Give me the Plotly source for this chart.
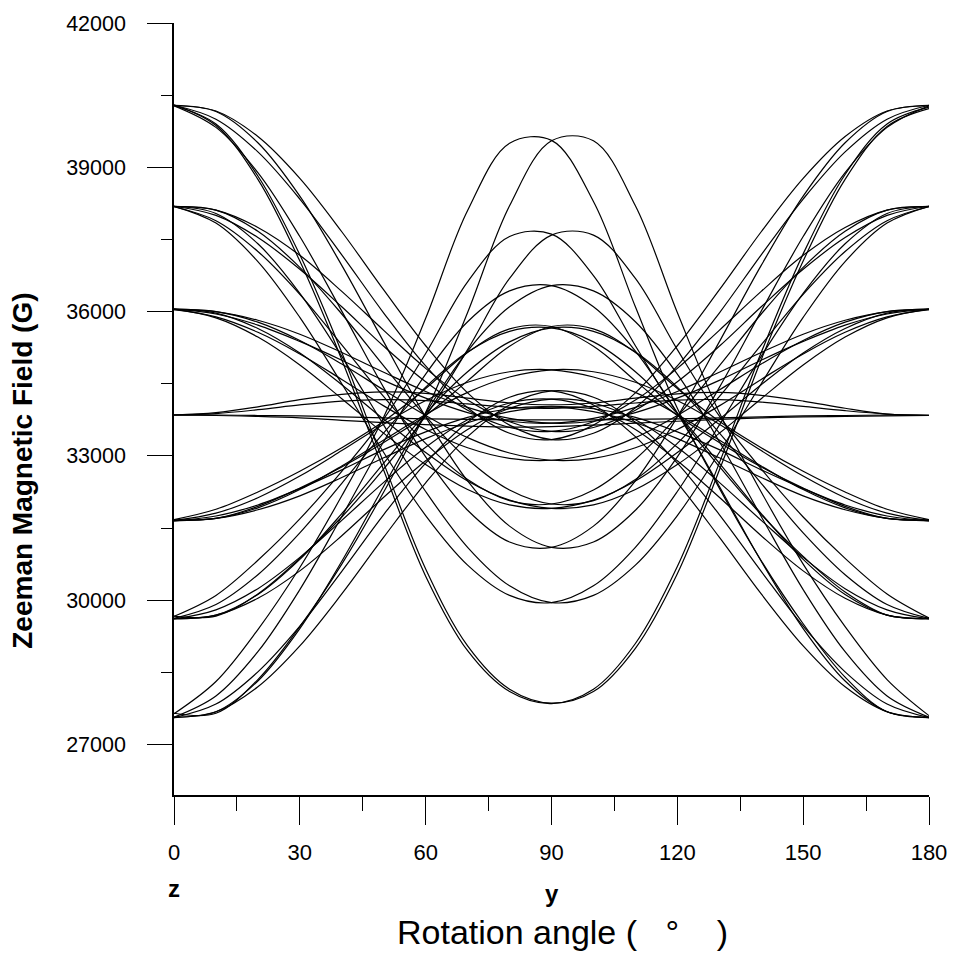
import plotly.graph_objects as go

# Rotation angle (degrees), sampled every 10 degrees
theta = [0, 10, 20, 30, 40, 50, 60, 70, 80, 90, 100, 110, 120, 130, 140, 150, 160, 170, 180]

# ---- Group 1: large anisotropy ----
# high-field lines falling to a valley at 90 deg
g1_40300_a = [40300, 39870, 38750, 37050, 35000, 32700, 30500, 28950, 28100, 27850, 28150, 29100, 30700, 32850, 35150, 37200, 38850, 39900, 40250]
g1_40300_b = [40280, 39900, 38820, 37180, 35150, 32850, 30650, 29050, 28150, 27860, 28100, 29000, 30550, 32700, 35000, 37050, 38750, 39850, 40220]
g1_38200_a = [38190, 37840, 37040, 35880, 34500, 33070, 31760, 30730, 30100, 29950, 30300, 31100, 32260, 33640, 35070, 36380, 37410, 38040, 38190]
g1_38200_b = [38190, 38040, 37410, 36380, 35070, 33640, 32260, 31100, 30300, 29950, 30100, 30730, 31760, 33070, 34500, 35880, 37040, 37840, 38190]
g1_36050_a = [36050, 35870, 35470, 34890, 34190, 33470, 32820, 32300, 31980, 31910, 32080, 32480, 33070, 33760, 34480, 35140, 35650, 35970, 36050]
g1_36050_b = [36050, 35970, 35650, 35140, 34480, 33760, 33070, 32480, 32080, 31910, 31980, 32300, 32820, 33470, 34190, 34890, 35470, 35870, 36050]
# low-field lines rising to peaks near 85 and 95 deg
g1_27550_a = [27640, 28310, 29390, 30680, 32170, 33810, 35860, 38100, 39500, 39560, 38290, 36100, 33990, 32330, 30820, 29510, 28400, 27680, 27560]
g1_27550_b = [27650, 27650, 28350, 29450, 30750, 32250, 33900, 35980, 38200, 39550, 39550, 38200, 35980, 33900, 32250, 30750, 29450, 28350, 27600]
g1_29600_a = [29665, 30100, 30830, 31690, 32680, 33770, 35130, 36620, 37560, 37610, 36750, 35290, 33890, 32780, 31780, 30910, 30170, 29690, 29620]
g1_29600_b = [29670, 29670, 30130, 30870, 31730, 32730, 33830, 35210, 36690, 37590, 37590, 36690, 35210, 33830, 32730, 31730, 30870, 30130, 29630]
g1_31650_a = [31675, 31890, 32250, 32680, 33170, 33720, 34400, 35150, 35640, 35690, 35280, 34560, 33840, 33280, 32770, 32330, 31950, 31700, 31670]
g1_31650_b = [31670, 31700, 31950, 32330, 32770, 33280, 33840, 34560, 35280, 35690, 35640, 35150, 34400, 33720, 33170, 32680, 32250, 31890, 31675]

# ---- Group 2: medium anisotropy ----
g2_40300_a = [40280, 39830, 38890, 37560, 36010, 34420, 32980, 31870, 31210, 31100, 31540, 32480, 33810, 35370, 36960, 38400, 39510, 40160, 40280]
g2_38200_a = [38180, 37890, 37250, 36360, 35310, 34230, 33260, 32510, 32070, 32000, 32290, 32930, 33820, 34870, 35950, 36920, 37670, 38110, 38180]
g2_36050_a = [36040, 35890, 35570, 35120, 34590, 34040, 33550, 33170, 32950, 32910, 33060, 33380, 33840, 34370, 34910, 35400, 35780, 36000, 36040]
g2_31650_a = [31660, 31810, 32130, 32580, 33110, 33660, 34150, 34530, 34750, 34790, 34640, 34320, 33860, 33330, 32790, 32300, 31920, 31700, 31660]
g2_29600_a = [29620, 29910, 30530, 31400, 32430, 33480, 34430, 35160, 35590, 35660, 35370, 34750, 33880, 32850, 31800, 30850, 30120, 29690, 29620]
g2_27550_a = [27570, 28010, 28930, 30220, 31740, 33300, 34700, 35790, 36430, 36540, 36100, 35180, 33890, 32370, 30810, 29410, 28320, 27680, 27570]
g2_40300_b = [40280, 40160, 39510, 38400, 36960, 35370, 33810, 32480, 31540, 31100, 31210, 31870, 32980, 34420, 36010, 37560, 38890, 39830, 40280]
g2_38200_b = [38180, 38110, 37670, 36920, 35950, 34870, 33820, 32930, 32290, 32000, 32070, 32510, 33260, 34230, 35310, 36360, 37250, 37890, 38180]
g2_36050_b = [36040, 36000, 35780, 35400, 34910, 34370, 33840, 33380, 33060, 32910, 32950, 33170, 33550, 34040, 34590, 35120, 35570, 35890, 36040]
g2_31650_b = [31660, 31700, 31920, 32300, 32790, 33330, 33860, 34320, 34640, 34790, 34750, 34530, 34150, 33660, 33110, 32580, 32130, 31810, 31660]
g2_29600_b = [29620, 29690, 30120, 30850, 31800, 32850, 33880, 34750, 35370, 35660, 35590, 35160, 34430, 33480, 32430, 31400, 30530, 29910, 29620]
g2_27550_b = [27570, 27680, 28320, 29410, 30810, 32370, 33890, 35180, 36100, 36540, 36430, 35790, 34700, 33300, 31740, 30220, 28930, 28010, 27570]

# ---- Group 3: small anisotropy ----
g3_40300_a = [40290, 40000, 39320, 38340, 37180, 35970, 34870, 34000, 33470, 33340, 33640, 34310, 35290, 36450, 37660, 38770, 39640, 40170, 40290]
g3_38200_a = [38190, 38000, 37540, 36880, 36100, 35280, 34540, 33950, 33590, 33510, 33710, 34160, 34820, 35610, 36420, 37170, 37750, 38110, 38190]
g3_36050_a = [36050, 35950, 35720, 35380, 34990, 34570, 34200, 33900, 33720, 33680, 33780, 34010, 34340, 34740, 35150, 35530, 35820, 36000, 36050]
g3_31650_a = [31650, 31750, 31980, 32320, 32710, 33130, 33500, 33800, 33980, 34020, 33920, 33690, 33360, 32960, 32550, 32170, 31880, 31700, 31650]
g3_29600_a = [29610, 29800, 30240, 30890, 31660, 32450, 33180, 33750, 34100, 34180, 33990, 33550, 32900, 32140, 31340, 30610, 30040, 29690, 29610]
g3_27550_a = [27560, 27840, 28510, 29460, 30600, 31780, 32850, 33700, 34220, 34350, 34060, 33400, 32440, 31310, 30130, 29050, 28200, 27680, 27560]
g3_40300_b = [40290, 40170, 39640, 38770, 37660, 36450, 35290, 34310, 33640, 33340, 33470, 34000, 34870, 35970, 37180, 38340, 39320, 40000, 40290]
g3_38200_b = [38190, 38110, 37750, 37170, 36420, 35610, 34820, 34160, 33710, 33510, 33590, 33950, 34540, 35280, 36100, 36880, 37540, 38000, 38190]
g3_36050_b = [36050, 36000, 35820, 35530, 35150, 34740, 34340, 34010, 33780, 33680, 33720, 33900, 34200, 34570, 34990, 35380, 35720, 35950, 36050]
g3_31650_b = [31650, 31700, 31880, 32170, 32550, 32960, 33360, 33690, 33920, 34020, 33980, 33800, 33500, 33130, 32710, 32320, 31980, 31750, 31650]
g3_29600_b = [29610, 29690, 30040, 30610, 31340, 32140, 32900, 33550, 33990, 34180, 34100, 33750, 33180, 32450, 31660, 30890, 30240, 29800, 29610]
g3_27550_b = [27560, 27680, 28200, 29050, 30130, 31310, 32440, 33400, 34060, 34350, 34220, 33700, 32850, 31780, 30600, 29460, 28510, 27840, 27560]

# ---- Central transitions (near 33850 G) ----
c1_33850 = [33850, 33850, 33840, 33830, 33810, 33790, 33770, 33760, 33750, 33750, 33750, 33760, 33770, 33790, 33810, 33830, 33840, 33850, 33850]
c2_33850 = [33850, 33900, 34020, 34170, 34280, 34330, 34300, 34200, 34100, 34060, 34100, 34200, 34290, 34320, 34260, 34140, 33990, 33870, 33840]
c3_33850 = [33850, 33880, 33960, 34060, 34140, 34170, 34150, 34080, 34010, 33990, 34030, 34100, 34160, 34170, 34120, 34030, 33940, 33870, 33840]
c4_33850 = [33850, 33840, 33820, 33790, 33740, 33690, 33650, 33620, 33600, 33610, 33640, 33680, 33720, 33760, 33790, 33810, 33820, 33830, 33840]

# Axis ticks
x_tickvals = [0, 30, 60, 90, 120, 150, 180]
y_tickvals = [27000, 30000, 33000, 36000, 39000, 42000]

curves = [
    g1_40300_a, g1_40300_b, g1_38200_a, g1_38200_b, g1_36050_a, g1_36050_b,
    g1_27550_a, g1_27550_b, g1_29600_a, g1_29600_b, g1_31650_a, g1_31650_b,
    g2_40300_a, g2_38200_a, g2_36050_a, g2_31650_a, g2_29600_a, g2_27550_a,
    g2_40300_b, g2_38200_b, g2_36050_b, g2_31650_b, g2_29600_b, g2_27550_b,
    g3_40300_a, g3_38200_a, g3_36050_a, g3_31650_a, g3_29600_a, g3_27550_a,
    g3_40300_b, g3_38200_b, g3_36050_b, g3_31650_b, g3_29600_b, g3_27550_b,
    c1_33850, c2_33850, c3_33850, c4_33850,
]

FONT = "Liberation Sans, Arial, sans-serif"

fig = go.Figure()
for ys in curves:
    fig.add_trace(go.Scatter(
        x=theta, y=ys, mode="lines",
        line=dict(color="black", width=1.2, shape="spline", smoothing=1.0),
        showlegend=False, hoverinfo="skip",
    ))

fig.update_layout(
    width=959, height=956,
    margin=dict(l=174, r=22, t=21, b=161),
    paper_bgcolor="white", plot_bgcolor="white",
    font=dict(family=FONT, color="black", size=21),
    showlegend=False,
)

fig.update_xaxes(
    range=[0, 180],
    tickmode="array", tickvals=x_tickvals, ticktext=[str(v) for v in x_tickvals],
    ticks="outside", ticklen=28, tickwidth=1.2, tickcolor="black",
    minor=dict(dtick=15, tick0=0, ticks="outside", ticklen=14, tickwidth=1.2, tickcolor="black"),
    showline=True, linecolor="black", linewidth=1.5,
    showgrid=False, zeroline=False,
    tickfont=dict(family=FONT, size=22, color="black"),
    ticklabelstandoff=9,
)

fig.update_yaxes(
    range=[25950, 42000],
    tickmode="array", tickvals=y_tickvals, ticktext=[str(v) for v in y_tickvals],
    ticks="outside", ticklen=25, tickwidth=1.2, tickcolor="black",
    minor=dict(dtick=1500, tick0=27000, ticks="outside", ticklen=11, tickwidth=1.2, tickcolor="black"),
    showline=True, linecolor="black", linewidth=1.5,
    showgrid=False, zeroline=False,
    tickfont=dict(family=FONT, size=21.5, color="black"),
    ticklabelstandoff=17,
)

# Axis labels and orientation markers
fig.add_annotation(x=0, y=-0.121, xref="x", yref="paper", text="<b>z</b>",
                   showarrow=False, font=dict(family=FONT, size=24, color="black"),
                   xanchor="center", yanchor="middle")
fig.add_annotation(x=90, y=-0.127, xref="x", yref="paper", text="<b>y</b>",
                   showarrow=False, font=dict(family=FONT, size=24, color="black"),
                   xanchor="center", yanchor="middle")
fig.add_annotation(x=52.6, y=-0.178, xref="x", yref="paper", text="Rotation angle (   °    )",
                   showarrow=False, font=dict(family=FONT, size=34, color="black"),
                   xanchor="left", yanchor="middle")
fig.add_annotation(x=-0.2, y=0.42, xref="paper", yref="paper",
                   text="<b>Zeeman Magnetic Field (G)</b>", textangle=-90,
                   showarrow=False, font=dict(family=FONT, size=28, color="black"),
                   xanchor="center", yanchor="middle")

fig.write_html("out.html")
